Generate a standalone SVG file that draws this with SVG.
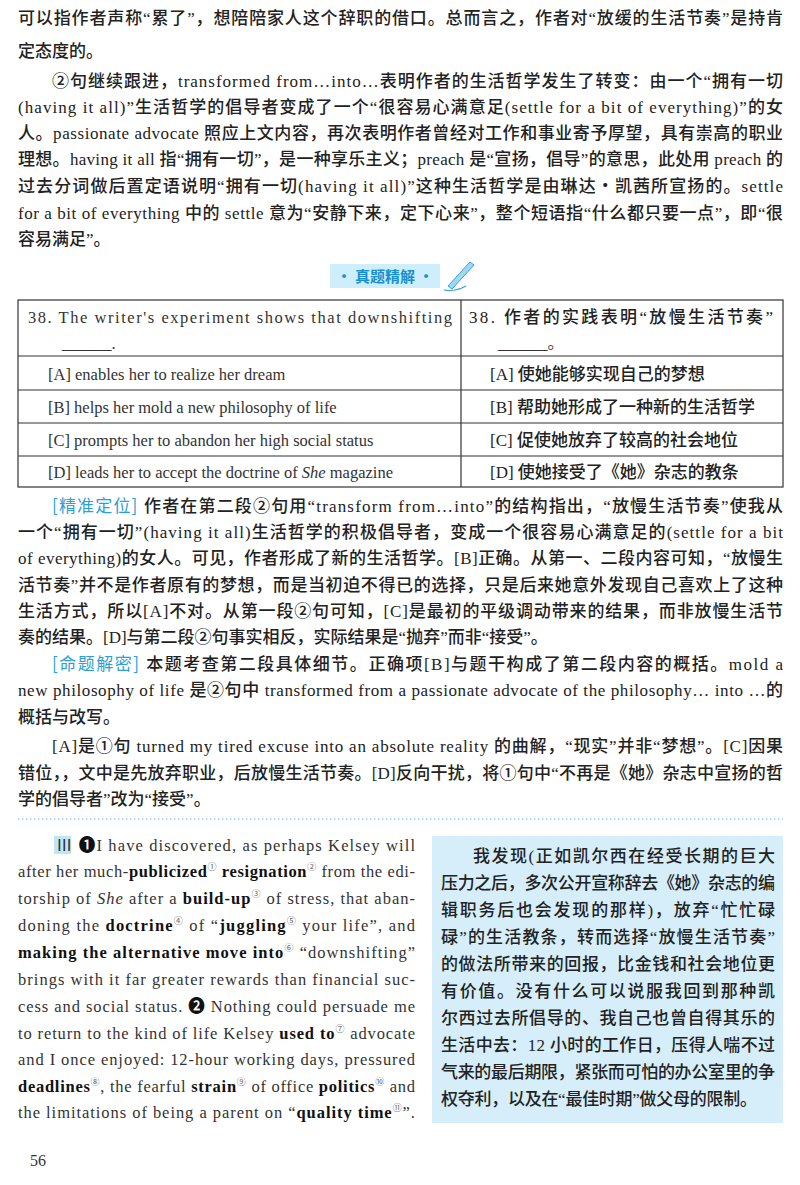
<svg xmlns="http://www.w3.org/2000/svg" width="800" height="1185" viewBox="0 0 800 1185">
<style>
text{font-family:"Liberation Serif","Noto Sans CJK SC",serif;font-size:17px;font-weight:500;fill:#222}
.e{font-family:"Liberation Serif","Noto Sans CJK SC",serif;font-size:16.5px;font-weight:400;fill:#333}
.b{font-weight:700;fill:#111}
.s{font-size:9px;fill:#666;font-weight:400}
.lab{fill:#2a9fd8;font-family:"Noto Sans CJK SC",sans-serif;font-weight:400}
.cell{fill:none;stroke:#333;stroke-width:1.2}
</style>
<rect width="800" height="1185" fill="#fff"/>
<g id="top">
<text x="18" y="24" textLength="765" lengthAdjust="spacing">可以指作者声称“累了”，想陪陪家人这个辞职的借口。总而言之，作者对“放缓的生活节奏”是持肯</text>
<text x="18" y="57">定态度的。</text>
<text x="52" y="87" textLength="731" lengthAdjust="spacing">②句继续跟进，transformed from…into…表明作者的生活哲学发生了转变：由一个“拥有一切</text>
<text x="18" y="113" textLength="765" lengthAdjust="spacing">(having it all)”生活哲学的倡导者变成了一个“很容易心满意足(settle for a bit of everything)”的女</text>
<text x="18" y="139" textLength="765" lengthAdjust="spacing">人。passionate advocate 照应上文内容，再次表明作者曾经对工作和事业寄予厚望，具有崇高的职业</text>
<text x="18" y="165" textLength="765" lengthAdjust="spacing">理想。having it all 指“拥有一切”，是一种享乐主义；preach 是“宣扬，倡导”的意思，此处用 preach 的</text>
<text x="18" y="192" textLength="765" lengthAdjust="spacing">过去分词做后置定语说明“拥有一切(having it all)”这种生活哲学是由琳达・凯茜所宣扬的。settle</text>
<text x="18" y="219" textLength="765" lengthAdjust="spacing">for a bit of everything 中的 settle 意为“安静下来，定下心来”，整个短语指“什么都只要一点”，即“很</text>
<text x="18" y="245">容易满足”。</text>
</g>
<g id="banner">
<rect x="330" y="264" width="110" height="24" fill="#cdeefa"/>
<text x="385" y="282" text-anchor="middle" style="fill:#1a8fd0;font-family:'Noto Sans CJK SC',sans-serif;font-size:15px;font-weight:700">• 真题精解 •</text>
<path d="M448 286 L470 262 L474 265 L452 289 Z" fill="#9fd8f2" stroke="#3aa0d8" stroke-width="1"/>
<path d="M444 290 Q455 292 466 286" fill="none" stroke="#3aa0d8" stroke-width="1.2"/>
</g>
<g id="table">
<rect class="cell" x="18" y="300" width="765" height="187"/>
<line class="cell" x1="461" y1="300" x2="461" y2="487"/>
<line class="cell" x1="18" y1="356" x2="783" y2="356"/>
<line class="cell" x1="18" y1="390" x2="783" y2="390"/>
<line class="cell" x1="18" y1="423" x2="783" y2="423"/>
<line class="cell" x1="18" y1="456" x2="783" y2="456"/>
<text class="e" x="28" y="323" textLength="424" lengthAdjust="spacing">38. The writer's experiment shows that downshifting</text>
<text class="e" x="62" y="349">______.</text>
<text class="e" x="48" y="380">[A] enables her to realize her dream</text>
<text class="e" x="48" y="413">[B] helps her mold a new philosophy of life</text>
<text class="e" x="48" y="446">[C] prompts her to abandon her high social status</text>
<text class="e" x="48" y="478">[D] leads her to accept the doctrine of <tspan font-style="italic">She</tspan> magazine</text>
<text x="469" y="323" textLength="304" lengthAdjust="spacing">38. 作者的实践表明“放慢生活节奏”</text>
<text class="e" x="498" y="349">______。</text>
<text x="490" y="380">[A] 使她能够实现自己的梦想</text>
<text x="490" y="413">[B] 帮助她形成了一种新的生活哲学</text>
<text x="490" y="446">[C] 促使她放弃了较高的社会地位</text>
<text x="490" y="478">[D] 使她接受了《她》杂志的教条</text>
</g>
<g id="analysis">
<text x="52" y="512" textLength="731" lengthAdjust="spacing"><tspan class="lab">[精准定位]</tspan> 作者在第二段②句用“transform from…into”的结构指出，“放慢生活节奏”使我从</text>
<text x="18" y="538" textLength="765" lengthAdjust="spacing">一个“拥有一切”(having it all)生活哲学的积极倡导者，变成一个很容易心满意足的(settle for a bit</text>
<text x="18" y="564" textLength="765" lengthAdjust="spacing">of everything)的女人。可见，作者形成了新的生活哲学。[B]正确。从第一、二段内容可知，“放慢生</text>
<text x="18" y="591" textLength="765" lengthAdjust="spacing">活节奏”并不是作者原有的梦想，而是当初迫不得已的选择，只是后来她意外发现自己喜欢上了这种</text>
<text x="18" y="617" textLength="765" lengthAdjust="spacing">生活方式，所以[A]不对。从第一段②句可知，[C]是最初的平级调动带来的结果，而非放慢生活节</text>
<text x="18" y="643">奏的结果。[D]与第二段②句事实相反，实际结果是“抛弃”而非“接受”。</text>
<text x="52" y="670" textLength="731" lengthAdjust="spacing"><tspan class="lab">[命题解密]</tspan> 本题考查第二段具体细节。正确项[B]与题干构成了第二段内容的概括。mold a</text>
<text x="18" y="696" textLength="765" lengthAdjust="spacing">new philosophy of life 是②句中 transformed from a passionate advocate of the philosophy… into …的</text>
<text x="18" y="723">概括与改写。</text>
<text x="52" y="752" textLength="731" lengthAdjust="spacing">[A]是①句 turned my tired excuse into an absolute reality 的曲解，“现实”并非“梦想”。[C]因果</text>
<text x="18" y="779" textLength="765" lengthAdjust="spacing">错位，，文中是先放弃职业，后放慢生活节奏。[D]反向干扰，将①句中“不再是《她》杂志中宣扬的哲</text>
<text x="18" y="805">学的倡导者”改为“接受”。</text>
<line x1="18" y1="819" x2="783" y2="819" stroke="#5cc3e8" stroke-width="1" stroke-dasharray="1.5,2.5"/>
</g>
<g id="passage">
<rect x="54" y="836" width="17" height="18" fill="#bfe6f7"/>
<text class="e" x="56" y="851" textLength="359" lengthAdjust="spacing">Ⅲ <tspan class="b">❶</tspan>I have discovered, as perhaps Kelsey will</text>
<text class="e" x="18" y="877" textLength="397" lengthAdjust="spacing">after her much-<tspan class="b">publicized</tspan><tspan class="s" dy="-7">①</tspan><tspan dy="7"> </tspan><tspan class="b">resignation</tspan><tspan class="s" dy="-7">②</tspan><tspan dy="7"> from the edi-</tspan></text>
<text class="e" x="18" y="904" textLength="397" lengthAdjust="spacing">torship of <tspan font-style="italic">She</tspan> after a <tspan class="b">build-up</tspan><tspan class="s" dy="-7">③</tspan><tspan dy="7"> of stress, that aban-</tspan></text>
<text class="e" x="18" y="931" textLength="397" lengthAdjust="spacing">doning the <tspan class="b">doctrine</tspan><tspan class="s" dy="-7">④</tspan><tspan dy="7"> of “</tspan><tspan class="b">juggling</tspan><tspan class="s" dy="-7">⑤</tspan><tspan dy="7"> your life”, and</tspan></text>
<text class="e" x="18" y="958" textLength="397" lengthAdjust="spacing"><tspan class="b">making the alternative move into</tspan><tspan class="s" dy="-7">⑥</tspan><tspan dy="7"> “downshifting”</tspan></text>
<text class="e" x="18" y="985" textLength="397" lengthAdjust="spacing">brings with it far greater rewards than financial suc-</text>
<text class="e" x="18" y="1012" textLength="397" lengthAdjust="spacing">cess and social status. <tspan class="b">❷</tspan> Nothing could persuade me</text>
<text class="e" x="18" y="1039" textLength="397" lengthAdjust="spacing">to return to the kind of life Kelsey <tspan class="b">used to</tspan><tspan class="s" dy="-7">⑦</tspan><tspan dy="7"> advocate</tspan></text>
<text class="e" x="18" y="1065" textLength="397" lengthAdjust="spacing">and I once enjoyed: 12-hour working days, pressured</text>
<text class="e" x="18" y="1092" textLength="397" lengthAdjust="spacing"><tspan class="b">deadlines</tspan><tspan class="s" dy="-7">⑧</tspan><tspan dy="7">, the fearful </tspan><tspan class="b">strain</tspan><tspan class="s" dy="-7">⑨</tspan><tspan dy="7"> of office </tspan><tspan class="b">politics</tspan><tspan class="s" dy="-7">⑩</tspan><tspan dy="7"> and</tspan></text>
<text class="e" x="18" y="1118" textLength="397" lengthAdjust="spacing">the limitations of being a parent on “<tspan class="b">quality time</tspan><tspan class="s" dy="-7">⑪</tspan><tspan dy="7">”.</tspan></text>
</g>
<g id="translation">
<rect x="432" y="836" width="351" height="287" fill="#d6eefa"/>
<text x="473" y="862" textLength="302" lengthAdjust="spacing">我发现(正如凯尔西在经受长期的巨大</text>
<text x="441" y="889" textLength="334" lengthAdjust="spacing">压力之后，多次公开宣称辞去《她》杂志的编</text>
<text x="441" y="916" textLength="334" lengthAdjust="spacing">辑职务后也会发现的那样)，放弃“忙忙碌</text>
<text x="441" y="943" textLength="334" lengthAdjust="spacing">碌”的生活教条，转而选择“放慢生活节奏”</text>
<text x="441" y="970" textLength="334" lengthAdjust="spacing">的做法所带来的回报，比金钱和社会地位更</text>
<text x="441" y="997" textLength="334" lengthAdjust="spacing">有价值。没有什么可以说服我回到那种凯</text>
<text x="441" y="1024" textLength="334" lengthAdjust="spacing">尔西过去所倡导的、我自己也曾自得其乐的</text>
<text x="441" y="1051" textLength="334" lengthAdjust="spacing">生活中去：12 小时的工作日，压得人喘不过</text>
<text x="441" y="1078" textLength="334" lengthAdjust="spacing">气来的最后期限，紧张而可怕的办公室里的争</text>
<text x="441" y="1105" textLength="316" lengthAdjust="spacing">权夺利，以及在“最佳时期”做父母的限制。</text>
</g>
<text class="e" x="30" y="1166" style="font-size:16px">56</text>
</svg>
